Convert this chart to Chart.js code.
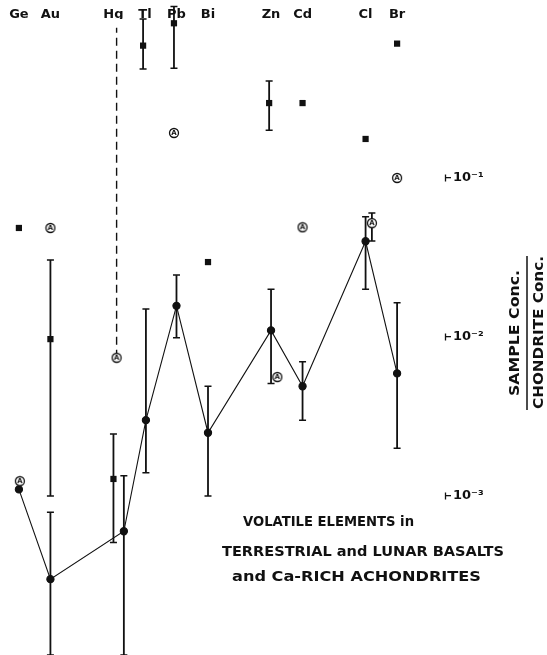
<!DOCTYPE html>
<html>
<head>
<meta charset="utf-8">
<script src="https://cdn.jsdelivr.net/npm/chart.js@4.4.1/dist/chart.umd.min.js"></script>
<style>
  html, body { margin: 0; padding: 0; background: #fff; }
  #wrap { width: 547px; height: 655px; position: relative; }
</style>
</head>
<body>
<div id="wrap"><canvas id="c"></canvas></div>
<script>
// Element slots along the top row (blank slots separate the groups)
const slots = ['Ge', 'Au', '', 'Hg', 'Tl', 'Pb', 'Bi', '', 'Zn', 'Cd', '', 'Cl', 'Br'];
const elements = ['Ge', 'Au', 'Hg', 'Tl', 'Pb', 'Bi', 'Zn', 'Cd', 'Cl', 'Br'];

// Terrestrial basalts (filled circles, joined), with ranges
const terrestrial     = [1.1e-3, 3.0e-4, 6.0e-4, 3.0e-3, 1.57e-2, 2.5e-3, 1.1e-2, 4.9e-3, 4.0e-2, 5.9e-3];
const terrestrialLow  = [null,   1.0e-4, 1.0e-4, 1.4e-3, 9.9e-3,  1.0e-3, 5.1e-3, 3.0e-3, 2.0e-2, 2.0e-3];
const terrestrialHigh = [null,   7.9e-4, 1.34e-3, 1.5e-2, 2.45e-2, 4.9e-3, 2.0e-2, 7.0e-3, 5.7e-2, 1.64e-2];
const terrestrialShift = [0, 0, 0.33, 0.03, 0, 0, 0, 0, 0, 0];

// Lunar basalts (filled squares), with ranges
const lunar     = [4.85e-2, 9.7e-3, 1.28e-3, 0.68, 0.94, 2.96e-2, 0.296, 0.296, 0.176, 0.70];
const lunarLow  = [null,    1.0e-3, 5.1e-4,  0.485, 0.49, null,   0.20,  null,  null,  null];
const lunarHigh = [null,    3.05e-2, 2.45e-3, 1.0,  1.2,  null,   0.407, null,  null,  null];
const lunarShift = [0, 0, 0, -0.06, -0.08, 0, -0.06, 0, 0, 0];

// Ca-rich achondrites (circled A), with ranges
const achondrite     = [1.24e-3, 4.85e-2, 7.4e-3, null, 0.192, null, 5.6e-3, 4.9e-2, 5.2e-2, 0.1];
const achondriteLow  = [null, null, null, null, null, null, null, null, 4.02e-2, null];
const achondriteHigh = [null, null, null, null, null, null, null, null, 6.03e-2, null];
const achondriteShift = [0.03, 0, 0.1, 0, -0.08, 0, 0.2, 0, 0.2, 0];

// Hg in achondrites: upper limit drawn as a dashed line
const hgLimitTop = 0.88;

// Axis decades that carry labels
const decadeTicks = [1e-3, 1e-2, 1e-1];
const decadeLabels = ['10\u207B\u00B3', '10\u207B\u00B2', '10\u207B\u00B9'];

const slotOf = name => slots.indexOf(name);

function points(values, shift, low, high) {
  const out = [];
  elements.forEach((el, i) => {
    if (values[i] == null) return;
    out.push({ x: slotOf(el) + shift[i], y: values[i], lo: low[i], hi: high[i] });
  });
  return out;
}

const INK = '#111';

// circled "A" marker
function makeAMarker() {
  const s = 12, c = document.createElement('canvas');
  c.width = s; c.height = s;
  const g = c.getContext('2d');
  g.beginPath();
  g.arc(s / 2, s / 2, 4.5, 0, Math.PI * 2);
  g.fillStyle = '#fff';
  g.fill();
  g.lineWidth = 1.3;
  g.strokeStyle = INK;
  g.stroke();
  g.fillStyle = INK;
  g.font = 'bold 7px "DejaVu Sans"';
  g.textAlign = 'center';
  g.textBaseline = 'middle';
  g.fillText('A', s / 2, s / 2 + 0.5);
  return c;
}
const aMarker = makeAMarker();

// vertical range bars with short caps, drawn under the markers
const rangeBars = {
  id: 'rangeBars',
  beforeDatasetsDraw(chart) {
    const { ctx, scales: { x, y } } = chart;
    ctx.save();
    ctx.strokeStyle = INK;
    chart.data.datasets.forEach(ds => {
      if (!ds.ranged) return;
      ds.data.forEach(p => {
        if (p.lo == null || p.hi == null) return;
        const px = x.getPixelForValue(p.x);
        const y1 = y.getPixelForValue(p.hi);
        const y2 = y.getPixelForValue(p.lo);
        ctx.lineWidth = 1.8;
        ctx.beginPath();
        ctx.moveTo(px, y1); ctx.lineTo(px, y2);
        ctx.stroke();
        ctx.lineWidth = 1.5;
        ctx.beginPath();
        ctx.moveTo(px - 3.5, y1); ctx.lineTo(px + 3.5, y1);
        ctx.moveTo(px - 3.5, y2); ctx.lineTo(px + 3.5, y2);
        ctx.stroke();
      });
    });
    ctx.restore();
  }
};

// small upright serif at the root of each decade tick
const tickSerifs = {
  id: 'tickSerifs',
  afterDraw(chart) {
    const { ctx, scales: { y } } = chart;
    ctx.save();
    ctx.strokeStyle = INK;
    ctx.lineWidth = 1.3;
    y.ticks.forEach(t => {
      const py = y.getPixelForValue(t.value);
      ctx.beginPath();
      ctx.moveTo(y.left + 0.5, py - 3.5);
      ctx.lineTo(y.left + 0.5, py + 3.5);
      ctx.stroke();
    });
    ctx.restore();
  }
};

// text drawn at a set width (the lettering is wide and geometric)
function wideText(ctx, text, x, y, width) {
  const w = ctx.measureText(text).width;
  ctx.save();
  ctx.translate(x, y);
  ctx.scale(width / w, 1);
  ctx.fillText(text, 0, 0);
  ctx.restore();
}

// caption block and the ratio axis title
const captions = {
  id: 'captions',
  afterDraw(chart) {
    const { ctx } = chart;
    ctx.save();
    ctx.fillStyle = INK;
    ctx.font = 'bold 13.5px "DejaVu Sans"';
    ctx.textBaseline = 'middle';
    ctx.textAlign = 'left';
    wideText(ctx, 'VOLATILE ELEMENTS in', 243, 522, 171);
    wideText(ctx, 'TERRESTRIAL and LUNAR BASALTS', 222, 552, 282);
    wideText(ctx, 'and Ca-RICH ACHONDRITES', 232, 577, 249);

    // rotated ratio title: SAMPLE Conc. over CHONDRITE Conc.
    const cx = 527, cy = 333;
    ctx.translate(cx, cy);
    ctx.rotate(-Math.PI / 2);
    ctx.textAlign = 'left';
    wideText(ctx, 'SAMPLE Conc.', -63, -12, 126);
    wideText(ctx, 'CHONDRITE Conc.', -76, 12, 153);
    ctx.strokeStyle = INK;
    ctx.lineWidth = 1.5;
    ctx.beginPath();
    ctx.moveTo(-77, 0); ctx.lineTo(77, 0);
    ctx.stroke();
    ctx.restore();
  }
};

new Chart(document.getElementById('c'), {
  type: 'scatter',
  data: {
    datasets: [
      {
        label: 'Achondrites',
        data: points(achondrite, achondriteShift, achondriteLow, achondriteHigh),
        ranged: true,
        pointStyle: aMarker,
        pointRadius: 6,
        showLine: false,
        clip: false,
        order: 0
      },
      {
        label: 'Lunar basalts',
        data: points(lunar, lunarShift, lunarLow, lunarHigh),
        ranged: true,
        pointStyle: 'rect',
        pointRadius: 4.4,
        backgroundColor: INK,
        borderColor: INK,
        borderWidth: 0,
        showLine: false,
        clip: false,
        order: 1
      },
      {
        label: 'Terrestrial basalts',
        data: points(terrestrial, terrestrialShift, terrestrialLow, terrestrialHigh),
        ranged: true,
        pointStyle: 'circle',
        pointRadius: 3.6,
        backgroundColor: INK,
        borderColor: INK,
        borderWidth: 1.1,
        showLine: true,
        tension: 0,
        clip: false,
        order: 2
      },
      {
        label: 'Hg limit',
        data: [
          { x: slotOf('Hg') + achondriteShift[2], y: achondrite[2] },
          { x: slotOf('Hg') + achondriteShift[2], y: hgLimitTop }
        ],
        showLine: true,
        borderColor: INK,
        borderWidth: 1.4,
        borderDash: [8, 5],
        pointRadius: 0,
        clip: false,
        order: 5
      }
    ]
  },
  options: {
    responsive: true,
    maintainAspectRatio: false,
    animation: false,
    layout: { padding: 0, autoPadding: false },
    plugins: {
      legend: { display: false },
      tooltip: { enabled: false },
      title: { display: false }
    },
    scales: {
      x: {
        type: 'linear',
        position: 'top',
        min: -0.6,
        max: 13.52,
        afterFit(scale) {
          scale.height = 19;
          scale.paddingLeft = 0;
          scale.paddingRight = 0;
        },
        afterBuildTicks(scale) {
          scale.ticks = slots.map((s, i) => ({ value: i })).filter(t => slots[t.value] !== '');
        },
        ticks: {
          autoSkip: false,
          maxRotation: 0,
          padding: -3,
          color: INK,
          font: { family: 'DejaVu Sans', weight: 'bold', size: 13 },
          callback: v => slots[v] || ''
        },
        grid: { display: false, drawTicks: false },
        border: { display: false }
      },
      y: {
        type: 'logarithmic',
        position: 'right',
        min: 1e-4,
        max: 1,
        afterFit(scale) {
          scale.width = 102;
          scale.paddingTop = 0;
          scale.paddingBottom = 0;
        },
        afterBuildTicks(scale) {
          scale.ticks = decadeTicks.map(v => ({ value: v }));
        },
        ticks: {
          padding: 2,
          color: INK,
          font: { family: 'DejaVu Sans', weight: 'bold', size: 13 },
          callback: v => decadeLabels[decadeTicks.indexOf(v)] || ''
        },
        grid: {
          display: true,
          drawOnChartArea: false,
          drawTicks: true,
          tickLength: 6,
          color: INK,
          lineWidth: 1.3
        },
        border: { display: false }
      }
    }
  },
  plugins: [rangeBars, tickSerifs, captions]
});
</script>
</body>
</html>
